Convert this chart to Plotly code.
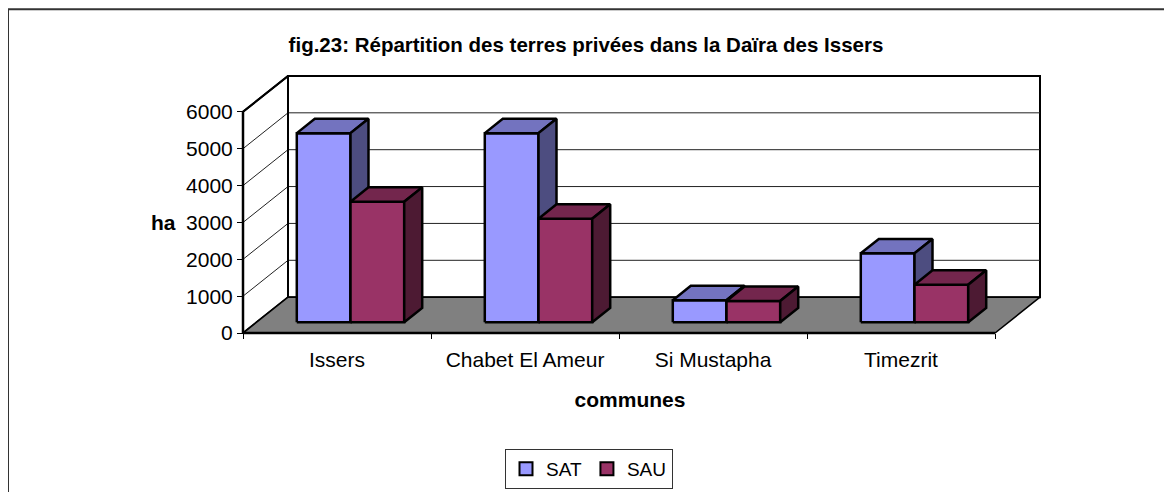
import plotly.graph_objects as go

# ---------------- data ----------------
categories = ["Issers", "Chabet El Ameur", "Si Mustapha", "Timezrit"]
series_names = ["SAT", "SAU"]
sat_values = [5130, 5130, 600, 1870]
sau_values = [3270, 2810, 580, 1020]
y_tick_values = [0, 1000, 2000, 3000, 4000, 5000, 6000]
y_max = 6000
chart_title = "fig.23: Répartition des terres privées dans la Daïra des Issers"
x_title = "communes"
y_title = "ha"

# ---------------- style / geometry ----------------
W, H = 1172, 492
OFF = 8                                  # page body margin
PL, PR, PT, PB = 200 - OFF, 1060 - OFF, 60 - OFF, 350 - OFF   # plot area (px)
X0PX, Y0PX = 243 - OFF, 334 - OFF        # pixel of the data origin
XPX = 188.0                              # pixels per category
YPX = 0.037                              # pixels per ha
DX = 45.0 / XPX                          # depth shift (category units)
DY = 36.0 / YPX                          # depth shift (ha units)
BW = 1 / 3.5                             # bar width (gap width 150%)
Z0, Z1 = 0.3, 0.7                        # bar depth (fraction of floor depth)
FONT = "Arial, Liberation Sans, sans-serif"

front_cols = ["#9999FF", "#993366"]
top_cols = ["#7373BF", "#73264D"]
side_cols = ["#4D4D80", "#4D1A33"]

xr = [(PL - X0PX) / XPX, (PR - X0PX) / XPX]
yr = [(Y0PX - PB) / YPX, (Y0PX - PT) / YPX]
ncat = len(categories)


def P(x, y, z):
    return x + z * DX, y + z * DY


def poly(points, fill, width=2, color="black"):
    xs = [p[0] for p in points] + [points[0][0]]
    ys = [p[1] for p in points] + [points[0][1]]
    return go.Scatter(x=xs, y=ys, mode="lines", fill="toself" if fill else None,
                      fillcolor=fill, line=dict(color=color, width=width),
                      hoverinfo="skip", showlegend=False)


def seg(p, q, width=1, color="black"):
    return go.Scatter(x=[p[0], q[0]], y=[p[1], q[1]], mode="lines",
                      line=dict(color=color, width=width),
                      hoverinfo="skip", showlegend=False)


fig = go.Figure()

# back wall
fig.add_trace(poly([P(0, 0, 1), P(ncat, 0, 1), P(ncat, y_max, 1), P(0, y_max, 1)], "white", 2))
# side wall
fig.add_trace(poly([P(0, 0, 0), P(0, 0, 1), P(0, y_max, 1), P(0, y_max, 0)], "white", 2))
# gridlines
for v in y_tick_values[1:-1]:
    fig.add_trace(seg(P(0, v, 0), P(0, v, 1), 1, "#222"))
    fig.add_trace(seg(P(0, v, 1), P(ncat, v, 1), 1, "#222"))
# floor
fig.add_trace(poly([P(0, 0, 0), P(ncat, 0, 0), P(ncat, 0, 1), P(0, 0, 1)], "#808080", 1.5))
# axis lines
fig.add_trace(seg(P(0, 0, 0), P(ncat, 0, 0), 2.5))
fig.add_trace(seg(P(0, 0, 0), P(0, y_max, 0), 2.5))
fig.add_trace(seg(P(0, y_max, 0), P(0, y_max, 1), 2))
fig.add_trace(seg(P(0, 0, 1), P(0, y_max, 1), 2))

# bars
series = [sat_values, sau_values]
for i in range(ncat):
    c = i + 0.5
    for s, vals in enumerate(series):
        x0 = c - BW + s * BW
        x1 = x0 + BW
        v = vals[i]
        fig.add_trace(poly([P(x0, 0, Z0), P(x1, 0, Z0), P(x1, v, Z0), P(x0, v, Z0)], front_cols[s], 2.5))
        fig.add_trace(poly([P(x0, v, Z0), P(x1, v, Z0), P(x1, v, Z1), P(x0, v, Z1)], top_cols[s], 2.5))
        fig.add_trace(poly([P(x1, 0, Z0), P(x1, 0, Z1), P(x1, v, Z1), P(x1, v, Z0)], side_cols[s], 2.5))

# legend entries
for s, name in enumerate(series_names):
    fig.add_trace(go.Scatter(x=[None], y=[None], mode="markers", name=name,
                             marker=dict(symbol="square", size=13, color=front_cols[s],
                                         line=dict(color="black", width=2))))

pw, ph = PR - PL, PB - PT
fig.update_layout(
    width=W, height=H, autosize=False,
    margin=dict(l=PL, r=W - PR, t=PT, b=H - PB, pad=0),
    paper_bgcolor="white", plot_bgcolor="white",
    font=dict(family=FONT, size=21, color="black"),
    title=dict(text=chart_title, x=(586 - OFF) / W, xanchor="center", xref="container",
               y=1 - (45 - OFF) / H, yanchor="middle", yref="container",
               font=dict(family=FONT, size=20.5, weight="bold", color="black")),
    xaxis=dict(range=xr, tickmode="array", tickvals=[i + 0.5 for i in range(ncat)],
               ticktext=categories, ticks="", showgrid=False, zeroline=False, showline=False,
               anchor="free", position=(PB - Y0PX) / ph, ticklabelstandoff=12,
               tickfont=dict(size=21),
               minor=dict(tickmode="array", tickvals=list(range(ncat + 1)), ticks="outside",
                          ticklen=5, tickwidth=1, tickcolor="black", showgrid=False),
               title=dict(text=x_title, standoff=22,
                          font=dict(family=FONT, size=21, weight="bold"))),
    yaxis=dict(range=yr, tickmode="array", tickvals=y_tick_values, ticks="outside",
               ticklen=6, tickwidth=1, tickcolor="black", showgrid=False, zeroline=False,
               showline=False, anchor="free", position=(X0PX - PL) / pw,
               tickfont=dict(size=21)),
    legend=dict(orientation="h", x=(589 - OFF - PL) / pw, xanchor="center",
                y=(PB - (449 - OFF)) / ph, yanchor="top", bordercolor="#333", borderwidth=1,
                bgcolor="white", itemwidth=30, font=dict(size=19), tracegroupgap=0),
    annotations=[dict(text=y_title, xref="paper", yref="y", x=(163 - OFF - PL) / pw, y=3000,
                      showarrow=False, font=dict(family=FONT, size=21, weight="bold"),
                      xanchor="center", yanchor="middle")],
    shapes=[dict(type="rect", xref="paper", yref="paper",
                 x0=(8 - OFF - PL) / pw, x1=(1200 - PL) / pw,
                 y0=(PB - 520) / ph, y1=(PB - (9 - OFF)) / ph,
                 line=dict(color="#333", width=2), fillcolor="rgba(0,0,0,0)", layer="below")],
)

fig.write_html("out.html")
